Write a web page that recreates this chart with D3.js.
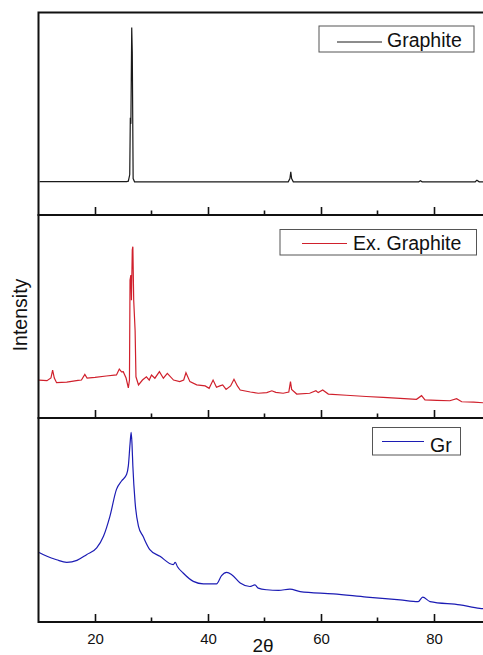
<!DOCTYPE html>
<html>
<head>
<meta charset="utf-8">
<script src="https://cdn.jsdelivr.net/npm/d3@7"></script>
<style>
  body { margin: 0; background: #fff; }
  svg { font-family: "Liberation Sans", Arial, sans-serif; }
</style>
</head>
<body>
<div id="chart"></div>
<script>
// 2theta / intensity (a.u.)
var graphiteX = [10.2, 20, 25.6, 25.9, 26.15, 26.25, 26.35, 26.5, 26.6, 26.75, 27.0, 40, 54.2, 54.5, 54.65, 54.8, 55.1, 77.3, 77.6, 77.9, 87.3, 87.6, 88, 90];
var graphiteY = [16.5, 16.5, 16.5, 16.7, 20, 48, 45, 92.6, 80, 18, 16.4, 16.4, 16.4, 18, 21.3, 18, 16.4, 16.4, 16.9, 16.4, 16.4, 17.2, 16.4, 16.4];

var exGraphiteX = [10.1, 11.5, 12.2, 12.5, 12.8, 13.2, 15, 17.0, 17.6, 18.2, 18.6, 20, 22, 23.8, 24.3, 24.7, 25.0, 25.5, 25.9, 26.1, 26.2, 26.35, 26.45, 26.6, 26.7, 26.85, 27.1, 27.25, 27.7, 28.4, 29.1, 29.6, 30.0, 30.6, 31.4, 32.1, 32.8, 33.9, 35.0, 35.7, 36.1, 36.8, 38.0, 39.5, 40.2, 40.9, 41.5, 42.1, 42.6, 43.2, 44.0, 44.6, 45.2, 45.7, 47.5, 48.9, 50.4, 51.3, 52.0, 53.3, 54.3, 54.6, 54.8, 55.7, 58.0, 59.1, 59.5, 60.3, 61.3, 64.5, 68, 71, 74, 76.9, 77.8, 78.4, 80.5, 82.8, 84.0, 84.9, 87, 88.7, 90];
var exGraphiteY = [18.7, 18.4, 19.7, 23.6, 19.7, 17.4, 17.7, 18.5, 18.7, 21.5, 19.7, 20, 20.7, 21.2, 24.1, 22.7, 22.8, 19.7, 14.8, 18.7, 68, 70.4, 58, 82.8, 84.4, 58, 43, 20.3, 16.3, 18.7, 20.3, 18.7, 21.2, 19.6, 22.8, 19.6, 22, 18.7, 17.9, 18.7, 22.3, 17.9, 16.3, 15.8, 14.6, 18.7, 15.1, 15.8, 16.3, 14.1, 15.8, 19.1, 15.8, 13.8, 12.8, 12.2, 12.5, 13.4, 12.6, 12.2, 12.8, 17.9, 14.1, 11.8, 12.2, 13.4, 12.5, 13.8, 11.8, 11.2, 10.6, 10.2, 9.7, 9.2, 11, 8.9, 8.7, 8.5, 9.5, 8, 7.8, 7.5, 7.4];

var grX = [10.1, 11.5, 13.2, 15, 16.8, 18.5, 20.3, 21.5, 22.65, 23.8, 24.7, 25.6, 25.9, 26.2, 26.4, 26.55, 26.7, 27.1, 27.7, 28.5, 29.7, 31.5, 33.85, 34.2, 34.6, 35.6, 37.4, 39.2, 41.5, 42.4, 43.3, 44.2, 45.7, 47.4, 48.3, 48.9, 50.4, 52.5, 54.5, 56.3, 62.2, 68.1, 74, 77.2, 78, 79.3, 84.6, 88.1, 90];
var grY = [34.1, 32.2, 30.5, 29.2, 30.2, 33, 36.3, 42, 51.9, 65, 69.1, 72.4, 76.5, 87.2, 93, 87.2, 76.5, 58.5, 46.9, 42, 35.5, 32.2, 28.1, 29.2, 27.1, 24, 19.9, 18.7, 18.7, 22.7, 24.3, 23.2, 19.1, 17.4, 18.2, 16.6, 15.8, 15.5, 16.1, 14.9, 13.8, 12.2, 10.8, 10, 12.2, 10, 8.4, 6.7, 6.4];

var seriesNames = ["Graphite", "Ex. Graphite", "Gr"];
var seriesColors = ["#1a1a1a", "#d0202c", "#1c1cb4"];
var majorTicks = [20, 40, 60, 80];
var minorTicks = [30, 50, 70, 90];

var width = 483, height = 655;
var left = 38.5, right = 490.5;
var panelTop = [12.5, 215, 418];
var panelBottom = [215, 418, 622];

var svg = d3.select("#chart").append("svg")
  .attr("width", width)
  .attr("height", height);

var x = d3.scaleLinear().domain([10, 90]).range([left, right]);

var allX = [graphiteX, exGraphiteX, grX];
var allY = [graphiteY, exGraphiteY, grY];

// legend positions per panel
var legendBox = [
  {x: 319, y: 26, w: 155, h: 26, lx1: 337, lx2: 382, ly: 42, tx: 387, ty: 47},
  {x: 280, y: 229.5, w: 196.5, h: 25.5, lx1: 302, lx2: 347, ly: 243.5, tx: 353, ty: 250},
  {x: 372.5, y: 427.5, w: 88, h: 27.5, lx1: 382, lx2: 424, ly: 441.5, tx: 430, ty: 452}
];

for (var i = 0; i < 3; i++) {
  var y = d3.scaleLinear().domain([0, 100]).range([panelBottom[i], panelTop[i]]);
  var g = svg.append("g");

  var pts = allX[i].map(function(v, k) { return [v, allY[i][k]]; });
  var line = d3.line()
    .x(function(d) { return x(d[0]); })
    .y(function(d) { return y(d[1]); });
  if (i == 2) line.curve(d3.curveMonotoneX);

  g.append("path")
    .datum(pts)
    .attr("d", line)
    .attr("fill", "none")
    .attr("stroke", seriesColors[i])
    .attr("stroke-width", 1.2);

  // bottom axis with inward ticks
  var axis = d3.axisBottom(x)
    .tickValues(majorTicks)
    .tickSizeInner(-8)
    .tickSizeOuter(0)
    .tickPadding(11)
    .tickFormat(i == 2 ? d3.format("d") : function() { return ""; });

  var ax = g.append("g")
    .attr("transform", "translate(0," + panelBottom[i] + ")")
    .call(axis);
  ax.select(".domain").remove();
  ax.selectAll("line").attr("stroke", "#111").attr("stroke-width", 1.6);
  ax.selectAll("text").attr("font-size", 15).attr("fill", "#111")
    .attr("font-family", "Liberation Sans, Arial, sans-serif");

  g.selectAll(".minor")
    .data(minorTicks)
    .enter().append("line")
    .attr("x1", function(d) { return x(d); })
    .attr("x2", function(d) { return x(d); })
    .attr("y1", panelBottom[i])
    .attr("y2", panelBottom[i] - 4.5)
    .attr("stroke", "#111")
    .attr("stroke-width", 1.6);

  // frame
  g.append("rect")
    .attr("x", left)
    .attr("y", panelTop[i])
    .attr("width", right - left)
    .attr("height", panelBottom[i] - panelTop[i])
    .attr("fill", "none")
    .attr("stroke", "#111")
    .attr("stroke-width", 2);

  // legend
  var lb = legendBox[i];
  g.append("rect")
    .attr("x", lb.x).attr("y", lb.y)
    .attr("width", lb.w).attr("height", lb.h)
    .attr("fill", "#fff")
    .attr("stroke", "#555")
    .attr("stroke-width", 1);
  g.append("line")
    .attr("x1", lb.lx1).attr("x2", lb.lx2)
    .attr("y1", lb.ly).attr("y2", lb.ly)
    .attr("stroke", seriesColors[i])
    .attr("stroke-width", 1);
  g.append("text")
    .attr("x", lb.tx).attr("y", lb.ty)
    .attr("font-size", 19.5)
    .attr("fill", "#111")
    .text(seriesNames[i]);
}

// axis titles
svg.append("text")
  .attr("transform", "translate(26.5,315) rotate(-90)")
  .attr("text-anchor", "middle")
  .attr("font-size", 19.5)
  .attr("fill", "#111")
  .text("Intensity");

svg.append("text")
  .attr("x", 263)
  .attr("y", 652)
  .attr("text-anchor", "middle")
  .attr("font-size", 19)
  .attr("fill", "#111")
  .text("2θ");
</script>
</body>
</html>
